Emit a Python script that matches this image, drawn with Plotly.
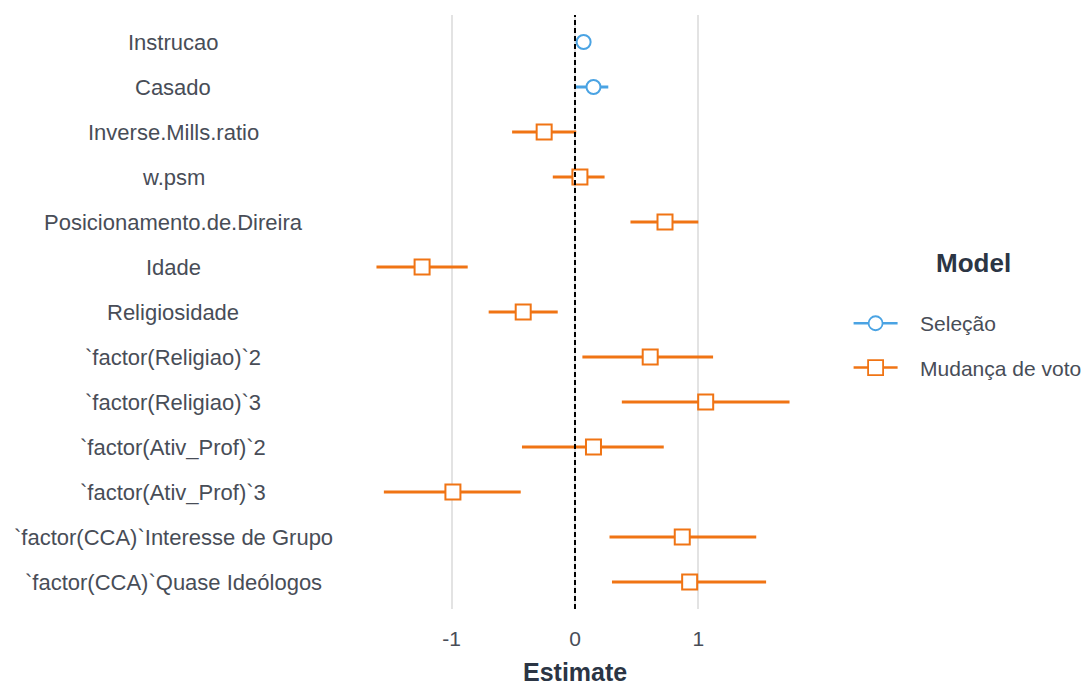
import plotly.graph_objects as go

# Coefficient estimates and 95% intervals
terms = [
    "Instrucao", "Casado", "Inverse.Mills.ratio", "w.psm",
    "Posicionamento.de.Direira", "Idade", "Religiosidade",
    "`factor(Religiao)`2", "`factor(Religiao)`3",
    "`factor(Ativ_Prof)`2", "`factor(Ativ_Prof)`3",
    "`factor(CCA)`Interesse de Grupo", "`factor(CCA)`Quase Ideólogos",
]

sel_terms = ["Instrucao", "Casado"]
sel_est = [0.07, 0.15]
sel_lo = [0.03, 0.00]
sel_hi = [0.11, 0.27]

mud_terms = terms[2:]
mud_est = [-0.25, 0.04, 0.73, -1.24, -0.42, 0.61, 1.06, 0.15, -0.99, 0.87, 0.93]
mud_lo = [-0.51, -0.18, 0.45, -1.61, -0.70, 0.06, 0.38, -0.43, -1.55, 0.28, 0.30]
mud_hi = [0.01, 0.24, 1.00, -0.87, -0.14, 1.12, 1.74, 0.72, -0.44, 1.47, 1.55]

x_ticks = [-1, 0, 1]

BLUE = "#4aa3e3"
ORANGE = "#f07414"
TXT = "#484d57"
TITLE = "#2b3544"
FONT = "Liberation Sans, Arial, sans-serif"
PAD = "\u00a0\u00a0\u00a0"  # gap between legend key and its text

fig = go.Figure()


def add_model(name, ys, est, lo, hi, color, symbol, size):
    fig.add_trace(go.Scatter(
        x=est, y=ys, mode="markers", showlegend=False,
        marker=dict(symbol=symbol, size=size, color="white",
                    line=dict(color=color, width=2)),
        error_x=dict(type="data", symmetric=False,
                     array=[h - e for h, e in zip(hi, est)],
                     arrayminus=[e - l for e, l in zip(est, lo)],
                     color=color, thickness=3, width=0),
    ))
    fig.add_trace(go.Scatter(
        x=[None], y=[None], mode="lines+markers", name=PAD + name,
        line=dict(color=color, width=2.5),
        marker=dict(symbol=symbol, size=size, color="white",
                    line=dict(color=color, width=1.8)),
        legendgroup=name,
    ))


add_model("Seleção", sel_terms, sel_est, sel_lo, sel_hi, BLUE, "circle", 14)
add_model("Mudança de voto", mud_terms, mud_est, mud_lo, mud_hi, ORANGE, "square", 15)

# reference line at zero
fig.add_vline(x=0, line=dict(color="black", width=2, dash="5px,3px"), layer="above")

# centred category labels
for t in terms:
    fig.add_annotation(x=-0.403, xref="paper", y=t, yref="y", text=t,
                       showarrow=False, xanchor="center", yanchor="middle",
                       font=dict(family=FONT, size=22, color=TXT))

fig.add_annotation(x=0.482, xref="paper", y=-0.106, yref="paper", text="<b>Estimate</b>",
                   showarrow=False, xanchor="center", yanchor="middle",
                   font=dict(family=FONT, size=25, color=TITLE))
fig.add_annotation(x=1.36, xref="paper", y=0.582, yref="paper", text="<b>Model</b>",
                   showarrow=False, xanchor="center", yanchor="middle",
                   font=dict(family=FONT, size=26, color=TITLE))

fig.update_layout(
    width=1086, height=687,
    margin=dict(l=356, r=276, t=15, b=78, autoexpand=False),
    paper_bgcolor="white", plot_bgcolor="white",
    font=dict(family=FONT, size=21, color=TXT),
    xaxis=dict(range=[-1.776, 1.906], tickvals=x_ticks, ticktext=["-1", "0", "1"],
               showgrid=True, gridcolor="#e3e3e3", gridwidth=1.5, zeroline=False,
               ticks="outside", ticklen=11, tickcolor="white", showline=False,
               tickfont=dict(size=21, color=TXT)),
    yaxis=dict(type="category", categoryarray=terms, range=[12.6, -0.6],
               showticklabels=False, showgrid=False, zeroline=False, showline=False),
    legend=dict(x=1.085, xanchor="left", y=0.515, yanchor="top",
                font=dict(family=FONT, size=21, color=TXT),
                itemwidth=44, tracegroupgap=14, bgcolor="rgba(0,0,0,0)"),
)

fig.write_html("out.html")
